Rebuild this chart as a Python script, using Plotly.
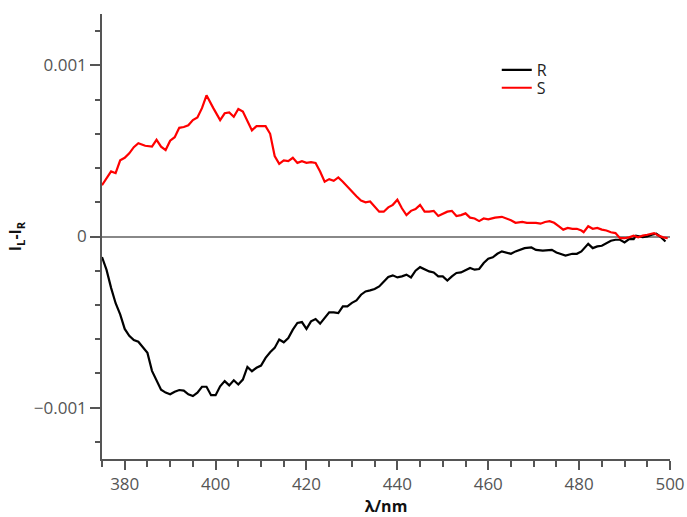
import plotly.graph_objects as go

# Wavelength (nm) and CPL signal (units of 1e-3) for the R enantiomer
r_wavelength = [375, 376, 377, 378, 379, 380, 381, 382, 383, 384, 385, 386, 387, 388, 389,
                390, 391, 392, 393, 394, 395, 396, 397, 398, 399, 400, 401, 402, 403, 404,
                405, 406, 407, 408, 409, 410, 411, 412, 413, 414, 415, 416, 417, 418, 419,
                420, 421, 422, 423, 424, 425, 426, 427, 428, 429, 430, 431, 432, 433, 434,
                435, 436, 437, 438, 439, 440, 441, 442, 443, 444, 445, 446, 447, 448, 449,
                450, 451, 452, 453, 454, 455, 456, 457, 458, 459, 460, 461, 462, 463, 465,
                466, 467, 468, 469.5, 470.5, 472, 473, 474, 475, 476, 477, 478.5, 479.5,
                480.5, 482, 483, 484, 485, 486, 487, 488, 489, 490, 491, 492, 492.5, 494,
                495, 496, 497, 498, 499]
r_signal = [-0.12, -0.195, -0.30, -0.39, -0.455, -0.54, -0.58, -0.605, -0.615, -0.65, -0.68,
            -0.785, -0.845, -0.895, -0.912, -0.922, -0.907, -0.897, -0.90, -0.922, -0.932,
            -0.912, -0.878, -0.878, -0.927, -0.927, -0.875, -0.845, -0.87, -0.84, -0.865,
            -0.836, -0.762, -0.787, -0.767, -0.754, -0.709, -0.676, -0.651, -0.602, -0.618,
            -0.593, -0.544, -0.505, -0.50, -0.54, -0.496, -0.482, -0.509, -0.476, -0.443,
            -0.443, -0.447, -0.408, -0.408, -0.388, -0.373, -0.34, -0.321, -0.315, -0.307,
            -0.292, -0.262, -0.237, -0.227, -0.239, -0.233, -0.223, -0.239, -0.20, -0.179,
            -0.19, -0.204, -0.21, -0.233, -0.233, -0.257, -0.233, -0.213, -0.21, -0.198,
            -0.184, -0.194, -0.19, -0.155, -0.13, -0.122, -0.101, -0.087, -0.101, -0.087,
            -0.078, -0.068, -0.064, -0.078, -0.082, -0.078, -0.078, -0.093, -0.101, -0.111,
            -0.101, -0.101, -0.087, -0.043, -0.068, -0.058, -0.054, -0.039, -0.025, -0.019,
            -0.019, -0.035, -0.015, -0.015, 0.004, -0.004, 0.0, 0.010, 0.016, -0.004, -0.029]

# Wavelength (nm) and CPL signal (units of 1e-3) for the S enantiomer
s_wavelength = [375, 377, 378, 379, 380, 381, 382, 383, 384.5, 386, 387, 388, 389, 390, 391,
                392, 393, 394, 395, 396, 397, 398, 399.5, 401, 402, 403, 404, 405, 406, 407,
                408, 409, 411, 412, 413, 414, 415, 416, 417, 418, 419, 420, 421, 422, 423,
                424, 425, 426, 427, 428, 429, 430, 431, 432, 433, 434, 435, 436, 437, 438,
                439, 440, 441, 442, 443, 444, 445, 446, 447, 448, 449, 450, 451, 452, 453,
                454, 455, 456, 457, 458, 459, 460, 461.5, 463, 464, 465, 466, 467.5, 468.5,
                469.5, 470.5, 471.5, 472.5, 473.5, 474.5, 475.5, 476.5, 477.5, 478.5, 479.5,
                480.5, 481, 482, 483, 484, 485, 486, 487, 488, 489, 490, 491, 492, 493, 494,
                495, 496.5, 497.5, 498.5, 499.5]
s_signal = [0.30, 0.38, 0.37, 0.445, 0.46, 0.486, 0.522, 0.545, 0.53, 0.525, 0.565, 0.525,
            0.505, 0.56, 0.58, 0.635, 0.64, 0.65, 0.68, 0.695, 0.75, 0.825, 0.75, 0.68, 0.72,
            0.725, 0.70, 0.745, 0.73, 0.67, 0.62, 0.645, 0.645, 0.60, 0.47, 0.425, 0.445,
            0.44, 0.46, 0.43, 0.44, 0.43, 0.435, 0.43, 0.38, 0.32, 0.335, 0.325, 0.345, 0.32,
            0.29, 0.265, 0.235, 0.21, 0.20, 0.205, 0.175, 0.145, 0.145, 0.17, 0.185, 0.215,
            0.165, 0.125, 0.15, 0.16, 0.185, 0.145, 0.145, 0.15, 0.12, 0.135, 0.145, 0.15,
            0.12, 0.125, 0.135, 0.11, 0.105, 0.09, 0.105, 0.10, 0.11, 0.115, 0.105, 0.095,
            0.08, 0.085, 0.08, 0.08, 0.08, 0.075, 0.085, 0.09, 0.08, 0.06, 0.04, 0.05, 0.045,
            0.045, 0.035, 0.025, 0.06, 0.045, 0.05, 0.04, 0.035, 0.025, 0.02, -0.01, -0.01,
            -0.005, 0.005, -0.005, 0.005, 0.01, 0.02, 0.005, -0.005, -0.01]

x_tick_values = [380, 400, 420, 440, 460, 480, 500]
y_tick_values = [-0.001, 0, 0.001]
y_tick_labels = ["\u22120.001", "0", "0.001"]

FONT = "Open Sans"
AXIS_GREY = "#555555"

fig = go.Figure()
fig.add_trace(go.Scatter(
    x=r_wavelength, y=[v * 1e-3 for v in r_signal], mode="lines", name="R",
    line=dict(color="#000000", width=2.2), legend="legend",
))
fig.add_trace(go.Scatter(
    x=s_wavelength, y=[v * 1e-3 for v in s_signal], mode="lines", name="S",
    line=dict(color="#ff0000", width=2.2), legend="legend2",
))

legend_style = dict(
    xanchor="left", yanchor="middle", bgcolor="rgba(0,0,0,0)",
    font=dict(family=FONT, size=16, color="#222222"), itemwidth=30,
)

fig.update_layout(
    width=687, height=517,
    margin=dict(l=102, r=17, t=14, b=58),
    paper_bgcolor="white", plot_bgcolor="white",
    font=dict(family=FONT, size=17, color="#444444"),
    showlegend=True,
    legend=dict(x=0.695, y=0.874, **legend_style),
    legend2=dict(x=0.695, y=0.834, **legend_style),
    xaxis=dict(
        range=[375, 500], tickvals=x_tick_values, automargin=False,
        showgrid=False, zeroline=False,
        showline=True, linecolor=AXIS_GREY, linewidth=1.5,
        ticks="outside", ticklen=9, tickwidth=1.5, tickcolor=AXIS_GREY,
        minor=dict(dtick=5, tick0=375, ticks="outside", ticklen=6, tickwidth=1.5,
                   tickcolor=AXIS_GREY, showgrid=False),
        tickfont=dict(family=FONT, size=17, color="#555555"),
        title=dict(text="<b>\u03bb/nm</b>", standoff=6,
                   font=dict(family=FONT, size=16, color="#111111")),
    ),
    yaxis=dict(
        range=[-0.0013, 0.0013], tickvals=y_tick_values, ticktext=y_tick_labels,
        automargin=False, showgrid=False,
        zeroline=True, zerolinecolor="#888888", zerolinewidth=1.5,
        showline=True, linecolor=AXIS_GREY, linewidth=1.5,
        ticks="outside", ticklen=10, tickwidth=1.5, tickcolor=AXIS_GREY,
        minor=dict(dtick=0.0002, tick0=0, ticks="outside", ticklen=5, tickwidth=1.5,
                   tickcolor=AXIS_GREY, showgrid=False),
        tickfont=dict(family=FONT, size=17, color="#555555"),
        title=dict(text="<b>I<sub>L</sub>-I<sub>R</sub></b>", standoff=8,
                   font=dict(family=FONT, size=16, color="#111111")),
    ),
)

fig.write_html("out.html")
